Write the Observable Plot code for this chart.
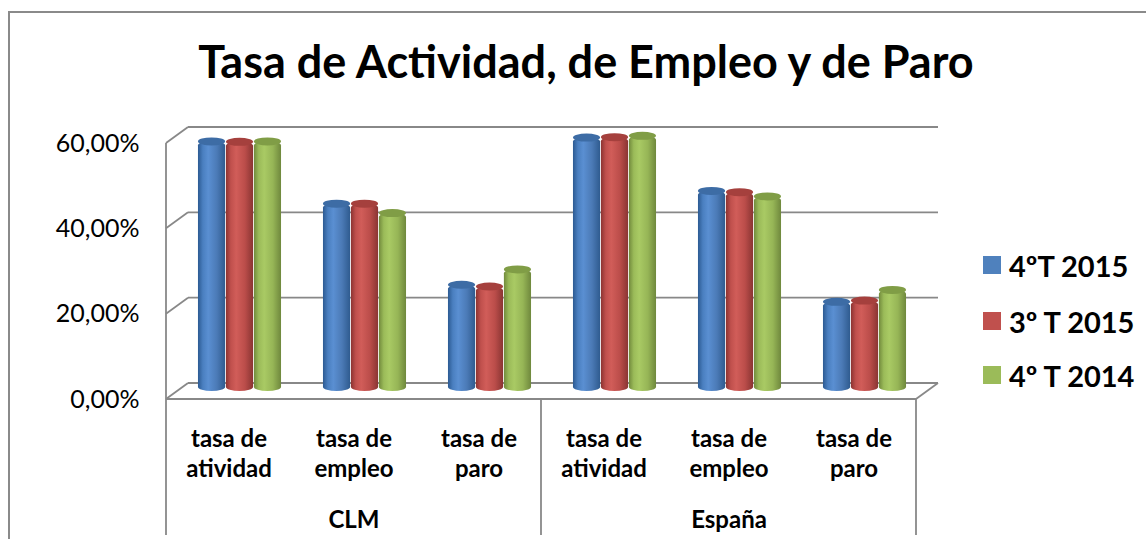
<!DOCTYPE html>
<html>
<head>
<meta charset="utf-8">
<script src="https://cdn.jsdelivr.net/npm/d3@7"></script>
<script src="https://cdn.jsdelivr.net/npm/@observablehq/plot@0.6"></script>
<style>
  html, body { margin: 0; padding: 0; background: #ffffff; }
  #wrap { position: relative; width: 1146px; height: 539px; overflow: hidden; font-family: Lato, "Open Sans", sans-serif; background: #fff; }
  #border { position: absolute; left: 8px; top: 11px; width: 1400px; height: 800px; border-left: 2px solid #8a8a8a; border-top: 2px solid #8a8a8a; }
  #chart { position: absolute; left: 0; top: 0; }
  #title { position: absolute; left: 0; width: 1172px; top: 35px; text-align: center; font-weight: bold; font-size: 45px; line-height: 52px; color: #000; white-space: nowrap; }
  .leg { position: absolute; left: 983px; height: 30px; display: flex; align-items: center; white-space: nowrap; }
  .leg .sw { width: 18px; height: 18px; margin-right: 8px; }
  .leg .lb { font-weight: bold; font-size: 29px; color: #000; }
</style>
</head>
<body>
<svg width="0" height="0" style="position:absolute">
  <defs>
    <linearGradient id="cyl0" x1="0" x2="1" y1="0" y2="0">
      <stop offset="0" stop-color="#2c5a92"/>
      <stop offset="0.18" stop-color="#4a7fc0"/>
      <stop offset="0.38" stop-color="#5a8fd2"/>
      <stop offset="0.7" stop-color="#4b7ab6"/>
      <stop offset="1" stop-color="#2f5b8f"/>
    </linearGradient>
    <linearGradient id="cyl1" x1="0" x2="1" y1="0" y2="0">
      <stop offset="0" stop-color="#8c3331"/>
      <stop offset="0.18" stop-color="#c0504d"/>
      <stop offset="0.38" stop-color="#d15d59"/>
      <stop offset="0.7" stop-color="#bb4d4a"/>
      <stop offset="1" stop-color="#8a3533"/>
    </linearGradient>
    <linearGradient id="cyl2" x1="0" x2="1" y1="0" y2="0">
      <stop offset="0" stop-color="#718a3c"/>
      <stop offset="0.18" stop-color="#9bbb59"/>
      <stop offset="0.38" stop-color="#a9ca64"/>
      <stop offset="0.7" stop-color="#96b556"/>
      <stop offset="1" stop-color="#6f883d"/>
    </linearGradient>
  </defs>
</svg>
<div id="wrap">
  <div id="border"></div>
  <div id="chart"></div>
  <div id="title">Tasa de Actividad, de Empleo y de Paro</div>
  <div id="legend"></div>
</div>
<script>
// ---- data ----
const groups = ["CLM", "España"];
const measures = ["tasa de\natividad", "tasa de\nempleo", "tasa de\nparo"];
const series = ["4ºT 2015", "3º T 2015", "4º T 2014"];
const values4T2015 = [58.5, 43.9, 24.9, 59.4, 46.9, 20.9];
const values3T2015 = [58.4, 43.9, 24.5, 59.5, 46.6, 21.2];
const values4T2014 = [58.5, 41.7, 28.5, 59.8, 45.6, 23.7];
const yTicks = [0, 20, 40, 60];
const yTickLabels = ["0,00%", "20,00%", "40,00%", "60,00%"];
const colors = ["#4F81BD", "#C0504D", "#9BBB59"];
const capColors = ["#3d6ca5", "#a5403d", "#809d46"];

// ---- build table ----
const cats = groups.flatMap(g => measures.map(m => g + "|" + m));
const seriesValues = [values4T2015, values3T2015, values4T2014];
const rows = seriesValues.map((vals, si) => cats.map((c, ci) => ({cat: c, series: series[si], value: vals[ci]})));

// layout
const W = 1146, H = 539;
const mL = 174, mR = 217, mT = 135, mB = 148;
const depthX = 11, depthY = 8;         // half-depth offset of the 3D box
const band = (W - mL - mR) / cats.length;
const barW = band / 4.5;                // gap width 150%
const groupOff = (band - 3 * barW) / 2;
const gridColor = "#888888";

function frame3d(index, scales, values, dims) {
  const x = scales.x, y = scales.y;
  const bw = typeof x.bandwidth === "function" ? x.bandwidth() : (x.bandwidth ?? band);
  const left = x(cats[0]);
  const right = x(cats[cats.length - 1]) + bw;
  const g = d3.create("svg:g").attr("fill", "none").attr("stroke", gridColor).attr("stroke-width", 1.8);
  const line = (x1, y1, x2, y2) => g.append("line").attr("x1", x1).attr("y1", y1).attr("x2", x2).attr("y2", y2);
  for (const t of yTicks) {
    const yy = y(t);
    line(left + depthX, yy - depthY, right + depthX, yy - depthY);
    line(left - depthX, yy + depthY, left + depthX, yy - depthY);
  }
  const y0 = y(0);
  line(left - depthX, y0 + depthY, right - depthX, y0 + depthY);
  line(right - depthX, y0 + depthY, right + depthX, y0 - depthY);
  line(left - depthX, y(yTicks[yTicks.length - 1]) + depthY, left - depthX, y0 + depthY);
  const seps = [left, x(cats[measures.length]), right];
  for (const s of seps) line(s - depthX, y0 + depthY, s - depthX, dims.height - 4);
  return g.node();
}

const marks = [frame3d];
rows.forEach((data, si) => {
  const insetLeft = groupOff + barW * si;
  const insetRight = band - insetLeft - barW;
  marks.push(Plot.barY(data, {x: "cat", y: "value", insetLeft, insetRight, rx: barW / 2, ry: 4, fill: `url(#cyl${si})`}));
  marks.push(Plot.barY(data, {x: "cat", y1: "value", y2: "value", insetLeft, insetRight, insetTop: -4, insetBottom: -4, rx: barW / 2, ry: 4, fill: capColors[si]}));
});
marks.push(Plot.text(yTicks, {y: d => d, text: (d, i) => yTickLabels[i], frameAnchor: "left", textAnchor: "end", dx: -35, dy: depthY, fontSize: 25, fill: "#000"}));
marks.push(Plot.text(cats, {x: d => d, text: d => d.split("|")[1], frameAnchor: "bottom", lineAnchor: "middle", dx: -depthX, dy: 61, fontSize: 24, fontWeight: "bold", lineHeight: 1.25, fill: "#000"}));
marks.push(Plot.text(groups, {x: g => g + "|" + measures[1], text: g => g, frameAnchor: "bottom", lineAnchor: "middle", dx: -depthX, dy: 129, fontSize: 24, fontWeight: "bold", fill: "#000"}));

const chart = Plot.plot({
  width: W, height: H,
  marginLeft: mL, marginRight: mR, marginTop: mT, marginBottom: mB,
  x: {type: "band", domain: cats, padding: 0, axis: null},
  y: {domain: [0, 60], axis: null},
  style: {background: "transparent", fontFamily: "Lato, 'Open Sans', sans-serif", overflow: "visible"},
  marks
});
document.getElementById("chart").appendChild(chart);

// legend
const legTops = [250, 306, 360];
const legend = document.getElementById("legend");
series.forEach((s, i) => {
  const d = document.createElement("div");
  d.className = "leg";
  d.style.top = legTops[i] + "px";
  d.innerHTML = `<div class="sw" style="background:${colors[i]}"></div><div class="lb">${s}</div>`;
  legend.appendChild(d);
});
</script>
</body>
</html>
